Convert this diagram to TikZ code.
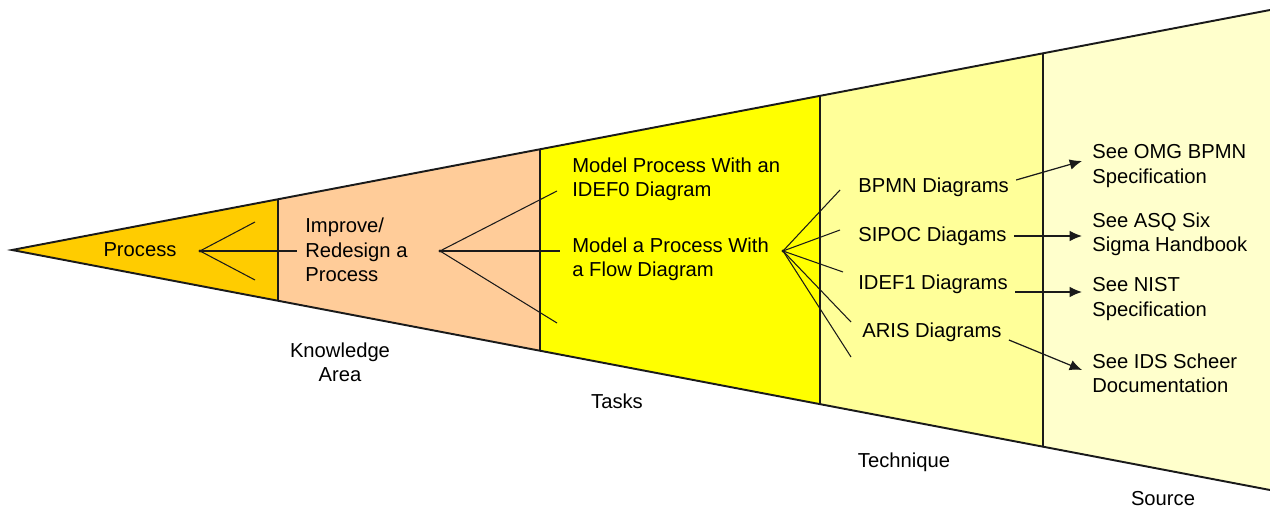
\documentclass[tikz,border=0pt]{standalone}
\usepackage{fontspec}
\setmainfont{Liberation Sans}
\usepackage{tikz}
\usetikzlibrary{calc,arrows.meta}
\definecolor{processgold}{HTML}{FFCC00}
\definecolor{areapeach}{HTML}{FFCC99}
\definecolor{taskyellow}{HTML}{FFFF00}
\definecolor{techyellow}{HTML}{FFFF99}
\definecolor{sourcecream}{HTML}{FFFFCC}
\definecolor{darkline}{HTML}{1A1A1A}

\begin{document}
\begin{tikzpicture}[
		x=0.02cm,y=-0.02cm,
		every node/.style={inner sep=0pt,font=\fontsize{11.5}{13.8}\selectfont,align=left},
		item/.style={anchor=west},
		fan/.style={line width=0.6pt,darkline},
		divider/.style={line width=0.8pt,darkline},
		pointer/.style={line width=0.7pt,darkline,-{Latex[length=7pt,width=6pt]}}
		]
		\useasboundingbox (0,0) rectangle (1270,509);

		% the wedge and its bands
		\coordinate (tip) at (12,250);
		\coordinate (topend) at (1270,10);
		\coordinate (botend) at (1270,490);
		\begin{scope}
			\clip (tip) -- (topend) -- (botend) -- cycle;
			\fill[processgold] (0,0) rectangle (278,509);
			\fill[areapeach] (278,0) rectangle (540,509);
			\fill[taskyellow] (540,0) rectangle (820,509);
			\fill[techyellow] (820,0) rectangle (1043,509);
			\fill[sourcecream] (1043,0) rectangle (1270,509);
			\foreach \xd in {278,540,820,1043}
				\draw[divider] (\xd,0) -- (\xd,509);
		\end{scope}
		\draw[line width=1.1pt,darkline] (topend) -- (tip) -- (botend);

		% band texts
		\node (process) at (140,250) {Process};
		\node[item] (improve) at (305,250) {Improve/\\Redesign a\\Process};
		\node[item] (idefzero) at (572,179) {Model Process With an\\IDEF0 Diagram};
		\node[item] (flow) at (572,259) {Model a Process With\\a Flow Diagram};
		\node[item] (bpmn) at (858,187) {BPMN Diagrams};
		\node[item] (sipoc) at (858,236) {SIPOC Diagams};
		\node[item] (ideffone) at (858,284) {IDEF1 Diagrams};
		\node[item] (aris) at (862,332) {ARIS Diagrams};
		\node[item] (omg) at (1092,166) {See OMG BPMN\\Specification};
		\node[item] (asq) at (1092,234) {See ASQ Six\\Sigma Handbook};
		\node[item] (nist) at (1092,299) {See NIST\\Specification};
		\node[item] (ids) at (1092,373) {See IDS Scheer\\Documentation};

		% band names below the wedge
		\node[align=center] (area) at (340,362) {Knowledge\\Area};
		\node (tasks) at (617,401) {Tasks};
		\node (technique) at (904,462) {Technique};
		\node (source) at (1163,499) {Source};

		% fans
		\coordinate (hubp) at (200,251);
		\coordinate (hubk) at (440,251);
		\coordinate (hubt) at (783,251);
		\coordinate (p1) at (255,222);
		\coordinate (p2) at (297,251);
		\coordinate (p3) at (255,280);
		\coordinate (k1) at (557,191);
		\coordinate (k2) at (560,251);
		\coordinate (k3) at (557,323);
		\coordinate (t1) at (840,190);
		\coordinate (t2) at (840,230);
		\coordinate (t3) at (843,272);
		\coordinate (t4) at (851,322);
		\coordinate (t5) at (851,357);
		\foreach \e in {p1,p2,p3}
			\draw[fan] (hubp) -- (\e);
		\foreach \e in {k1,k2,k3}
			\draw[fan] (hubk) -- (\e);
		\foreach \e in {t1,t2,t3,t4,t5}
			\draw[fan] (hubt) -- (\e);
		\foreach \h in {hubp,hubk,hubt}
			\fill[darkline] (\h) circle (1.6);

		% techniques point to sources
		\draw[pointer] ($(bpmn.east)+(7,-7)$) -- ($(omg.west)+(-10,-5)$);
		\draw[pointer] ($(sipoc.east)+(7,0)$) -- ($(asq.west)+(-10,2)$);
		\draw[pointer] ($(ideffone.east)+(7,8)$) -- ($(nist.west)+(-10,-7)$);
		\draw[pointer] ($(aris.east)+(7,8)$) -- ($(ids.west)+(-10,-3)$);
	\end{tikzpicture}
\end{document}
